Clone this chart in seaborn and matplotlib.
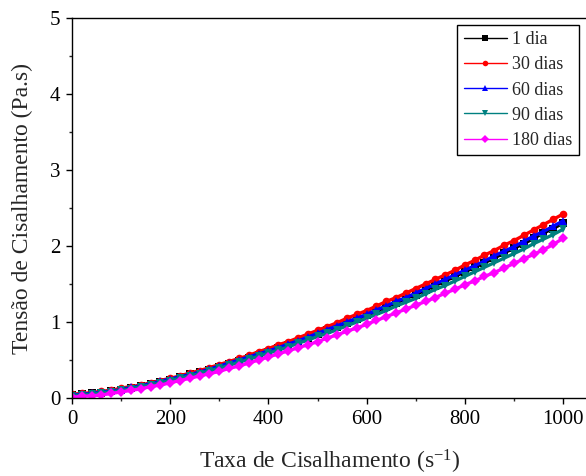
import matplotlib
matplotlib.use("Agg")
import matplotlib.pyplot as plt
import seaborn as sns
import pandas as pd
from matplotlib.ticker import MultipleLocator

# Shear rate (1/s)
shear_rate = [0, 20, 40, 60, 80, 100, 120, 140, 160, 180,
              200, 220, 240, 260, 280, 300, 320, 340, 360, 380,
              400, 420, 440, 460, 480, 500, 520, 540, 560, 580,
              600, 620, 640, 660, 680, 700, 720, 740, 760, 780,
              800, 820, 840, 860, 880, 900, 920, 940, 960, 980, 1000]

# Shear stress for each storage time
dia_1 = [0.04, 0.05, 0.06, 0.07, 0.09, 0.11, 0.13, 0.16, 0.18, 0.21,
         0.24, 0.27, 0.31, 0.34, 0.37, 0.41, 0.45, 0.49, 0.53, 0.57,
         0.61, 0.66, 0.70, 0.74, 0.79, 0.84, 0.89, 0.94, 0.99, 1.04,
         1.09, 1.14, 1.20, 1.25, 1.31, 1.36, 1.42, 1.48, 1.54, 1.60,
         1.66, 1.72, 1.78, 1.84, 1.91, 1.97, 2.03, 2.10, 2.17, 2.23, 2.30]
dias_30 = [0.05, 0.06, 0.07, 0.09, 0.10, 0.13, 0.15, 0.17, 0.20, 0.23,
           0.26, 0.29, 0.33, 0.36, 0.40, 0.44, 0.48, 0.52, 0.56, 0.61,
           0.65, 0.70, 0.74, 0.79, 0.84, 0.89, 0.94, 0.99, 1.05, 1.10,
           1.15, 1.21, 1.27, 1.32, 1.38, 1.44, 1.50, 1.56, 1.62, 1.68,
           1.75, 1.81, 1.88, 1.94, 2.01, 2.07, 2.14, 2.21, 2.28, 2.35, 2.42]
dias_60 = [0.04, 0.05, 0.06, 0.08, 0.09, 0.11, 0.14, 0.16, 0.19, 0.22,
           0.25, 0.28, 0.31, 0.34, 0.38, 0.42, 0.46, 0.50, 0.54, 0.58,
           0.62, 0.66, 0.71, 0.75, 0.80, 0.85, 0.90, 0.95, 1.00, 1.05,
           1.10, 1.16, 1.21, 1.27, 1.32, 1.38, 1.44, 1.50, 1.56, 1.62,
           1.68, 1.74, 1.80, 1.87, 1.93, 1.99, 2.06, 2.13, 2.19, 2.26, 2.33]
dias_90 = [0.03, 0.04, 0.05, 0.07, 0.08, 0.10, 0.12, 0.15, 0.17, 0.20,
           0.23, 0.26, 0.29, 0.32, 0.36, 0.39, 0.43, 0.47, 0.51, 0.55,
           0.59, 0.63, 0.67, 0.72, 0.76, 0.81, 0.85, 0.90, 0.95, 1.00,
           1.05, 1.10, 1.15, 1.21, 1.26, 1.31, 1.37, 1.43, 1.48, 1.54,
           1.60, 1.66, 1.72, 1.78, 1.84, 1.90, 1.96, 2.03, 2.09, 2.15, 2.22]
dias_180 = [0.01, 0.02, 0.03, 0.04, 0.06, 0.08, 0.10, 0.12, 0.15, 0.17,
            0.20, 0.23, 0.26, 0.29, 0.32, 0.35, 0.39, 0.42, 0.46, 0.50,
            0.54, 0.58, 0.62, 0.66, 0.70, 0.74, 0.79, 0.83, 0.88, 0.92,
            0.97, 1.02, 1.07, 1.12, 1.17, 1.22, 1.27, 1.32, 1.38, 1.43,
            1.49, 1.54, 1.60, 1.65, 1.71, 1.77, 1.83, 1.89, 1.95, 2.02, 2.10]

series_names = ["1 dia", "30 dias", "60 dias", "90 dias", "180 dias"]
series_values = [dia_1, dias_30, dias_60, dias_90, dias_180]
series_colors = ["#000000", "#ff0000", "#0000ff", "#008080", "#ff00ff"]
series_markers = ["s", "o", "^", "v", "D"]

frames = []
for name, vals in zip(series_names, series_values):
    frames.append(pd.DataFrame({"rate": shear_rate, "stress": vals, "amostra": name}))
df = pd.concat(frames, ignore_index=True)

sns.set_style("ticks")
plt.rcParams["font.family"] = ["Liberation Serif", "DejaVu Serif"]
plt.rcParams["mathtext.fontset"] = "custom"
plt.rcParams["mathtext.rm"] = "Liberation Serif"
plt.rcParams["mathtext.it"] = "Liberation Serif:italic"

fig = plt.figure(figsize=(5.86, 4.76), dpi=100)
ax_w = 516
ax = fig.add_axes([72 / 586, 78 / 476, ax_w / 586, 380 / 476])
x_max = ax_w / 0.491

sns.lineplot(data=df, x="rate", y="stress", hue="amostra", style="amostra",
             hue_order=series_names, style_order=series_names,
             palette=dict(zip(series_names, series_colors)),
             markers=dict(zip(series_names, series_markers)),
             dashes=False, markersize=5.5, markeredgewidth=0, linewidth=2.4,
             ax=ax)

ax.set_xlim(0, x_max)
ax.set_ylim(0, 5)
ax.xaxis.set_major_locator(MultipleLocator(200))
ax.xaxis.set_minor_locator(MultipleLocator(100))
ax.yaxis.set_major_locator(MultipleLocator(1))
ax.yaxis.set_minor_locator(MultipleLocator(0.5))
ax.tick_params(which="major", direction="out", length=4.5, width=1.0,
               labelsize=15, colors="black", pad=4)
ax.tick_params(which="minor", direction="out", length=2.5, width=1.0)
for side in ["left", "bottom", "top"]:
    ax.spines[side].set_linewidth(1.0)
    ax.spines[side].set_color("black")
ax.spines["right"].set_visible(False)

ax.set_xlabel("Taxa de Cisalhamento (s$^{\\mathregular{-1}}$)", fontsize=17, labelpad=14)
ax.set_ylabel("Tensão de Cisalhamento (Pa.s)", fontsize=17, labelpad=12)

handles, labels = ax.get_legend_handles_labels()
leg = ax.legend(handles, labels, loc="upper right",
                bbox_to_anchor=((579 - 72) / ax_w, (398 - 25) / 380),
                fontsize=13, frameon=True, fancybox=False, framealpha=1,
                edgecolor="black", handlelength=2.4, handletextpad=0.3,
                borderpad=0.35, labelspacing=0.45, borderaxespad=0)
leg.get_frame().set_linewidth(1.0)
for h in leg.legend_handles:
    h.set_linewidth(1.0)
    h.set_markersize(4)

fig.savefig("out.png", dpi=100)
